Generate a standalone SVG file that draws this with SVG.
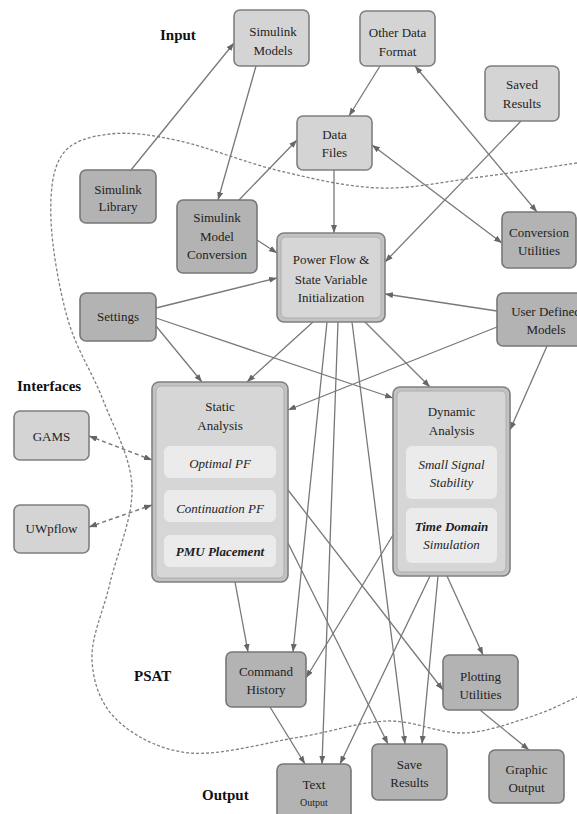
<svg xmlns="http://www.w3.org/2000/svg" width="577" height="814" viewBox="0 0 577 814">
<defs>
<marker id="ah" markerUnits="userSpaceOnUse" markerWidth="8" markerHeight="6" refX="8" refY="3" orient="auto-start-reverse">
<path d="M0,0 L8,3 L0,6 z" fill="#666666"/>
</marker>
<style>
.lt{fill:#d4d4d4;stroke:#7f7f7f;stroke-width:1.6}
.dk{fill:#b3b3b3;stroke:#777777;stroke-width:1.6}
.outer{fill:#c2c2c2;stroke:#808080;stroke-width:1.6}
.inner{fill:#d6d6d6;stroke:#aeaeae;stroke-width:1}
.sub{fill:#ebebeb;stroke:none}
text{font-family:"Liberation Serif","Times New Roman",serif;font-size:13px;fill:#1e1e1e;text-anchor:middle}
.it{font-style:italic}
.bi{font-style:italic;font-weight:bold}
.lbl{font-weight:bold;font-size:15px;fill:#111;text-anchor:start}
.c line{stroke:#787878;stroke-width:1.3;marker-end:url(#ah)}
.c .bd{marker-start:url(#ah)}
.c .ds{stroke-dasharray:4 3;stroke-width:1.5}
</style>
</defs>
<rect width="577" height="814" fill="#ffffff"/>
<g id="boundary">
<path d="M577,163 C544.7,167.7 512.8,172.8 480,177 C447.2,181.2 413.3,189 380,188 C346.7,187 313.3,178.8 280,171 C246.7,163.2 208.3,147.2 180,141 C151.7,134.8 129.7,131.7 110,134 C90.3,136.3 71.8,140.7 62,155 C52.2,169.3 50,192.5 51,220 C52,247.5 59.3,290 68,320 C76.7,350 92.3,372.2 103,400 C113.7,427.8 130.8,456.5 132,487 C133.2,517.5 116.7,554.2 110,583 C103.3,611.8 90.8,637.2 92,660 C93.2,682.8 100.7,704.5 117,720 C133.3,735.5 159.5,750.2 190,753 C220.5,755.8 267.2,742.3 300,737 C332.8,731.7 359.8,721.7 387,721 C414.2,720.3 439.2,733.7 463,733 C486.8,732.3 511,723 530,717 C549,711 565.3,702.3 577,697 L600,686" fill="none" stroke="#808080" stroke-width="1.3" stroke-dasharray="3 2"/>
</g>
<g id="labels">
<text class="lbl" x="160" y="40">Input</text>
<text class="lbl" x="17" y="391">Interfaces</text>
<text class="lbl" x="134" y="681">PSAT</text>
<text class="lbl" x="202" y="800">Output</text>
</g>
<g class="c" id="connectors">
<line x1="131" y1="170" x2="234" y2="43"/>
<line x1="256" y1="66" x2="218" y2="200"/>
<line x1="239" y1="200" x2="297" y2="140"/>
<line x1="257" y1="240" x2="277" y2="253"/>
<line x1="380" y1="66" x2="349" y2="116"/>
<line class="bd" x1="415" y1="66" x2="537" y2="212"/>
<line class="bd" x1="372" y1="145" x2="502" y2="243"/>
<line x1="334" y1="170" x2="334" y2="233"/>
<line x1="521" y1="121" x2="385" y2="262"/>
<line x1="156" y1="308" x2="277" y2="278"/>
<line x1="497" y1="311" x2="385" y2="294"/>
<line x1="156" y1="326" x2="202" y2="382"/>
<line x1="156" y1="318" x2="393" y2="398"/>
<line x1="313" y1="322" x2="247" y2="382"/>
<line x1="365" y1="322" x2="430" y2="387"/>
<line x1="497" y1="327" x2="288" y2="410"/>
<line x1="547" y1="346" x2="510" y2="430"/>
<line class="bd ds" x1="89" y1="436" x2="152" y2="460"/>
<line class="bd ds" x1="89" y1="527" x2="152" y2="505"/>
<line x1="327" y1="322" x2="293" y2="652"/>
<line x1="338" y1="322" x2="322" y2="764"/>
<line x1="352" y1="322" x2="405" y2="744"/>
<line x1="235" y1="582" x2="248" y2="652"/>
<line x1="288" y1="490" x2="443" y2="690"/>
<line x1="288" y1="543" x2="388" y2="744"/>
<line x1="393" y1="535" x2="306" y2="678"/>
<line x1="430" y1="576" x2="340" y2="764"/>
<line x1="438" y1="576" x2="422" y2="744"/>
<line x1="447" y1="576" x2="483" y2="655"/>
<line x1="270" y1="707" x2="305" y2="764"/>
<line x1="480" y1="710" x2="529" y2="750"/>
</g>
<g id="simulink-models"><rect class="lt" x="234" y="10" width="75" height="56" rx="6"/><text x="273" y="36">Simulink</text><text x="273" y="55">Models</text></g>
<g id="other-data-format"><rect class="lt" x="360" y="11" width="75" height="55" rx="6"/><text x="397.5" y="37">Other Data</text><text x="397.5" y="56">Format</text></g>
<g id="saved-results"><rect class="lt" x="485" y="66" width="74" height="55" rx="6"/><text x="522" y="89">Saved</text><text x="522" y="108">Results</text></g>
<g id="data-files"><rect class="lt" x="297" y="116" width="75" height="54" rx="6"/><text x="334.5" y="139">Data</text><text x="334.5" y="157">Files</text></g>
<g id="simulink-library"><rect class="dk" x="80" y="170" width="76" height="53" rx="6"/><text x="118" y="194">Simulink</text><text x="118" y="211">Library</text></g>
<g id="simulink-model-conversion"><rect class="dk" x="177" y="200" width="80" height="73" rx="6"/><text x="217" y="222">Simulink</text><text x="217" y="241">Model</text><text x="217" y="259">Conversion</text></g>
<g id="conversion-utilities"><rect class="dk" x="502" y="212" width="74" height="56" rx="6"/><text x="539" y="237">Conversion</text><text x="539" y="255">Utilities</text></g>
<g id="power-flow"><rect class="outer" x="277" y="233" width="108" height="89" rx="7"/><rect class="inner" x="281" y="237" width="100" height="81" rx="5"/><text x="331" y="264">Power Flow &amp;</text><text x="331" y="284">State Variable</text><text x="331" y="302">Initialization</text></g>
<g id="settings"><rect class="dk" x="80" y="293" width="76" height="48" rx="6"/><text x="118" y="321">Settings</text></g>
<g id="user-defined-models"><rect class="dk" x="497" y="293" width="98" height="53" rx="6"/><text x="546" y="316">User Defined</text><text x="546" y="334">Models</text></g>
<g id="gams"><rect class="lt" x="14" y="411" width="75" height="49" rx="6"/><text x="51.5" y="441">GAMS</text></g>
<g id="uwpflow"><rect class="lt" x="14" y="505" width="75" height="48" rx="6"/><text x="51.5" y="533">UWpflow</text></g>
<g id="static-analysis"><rect class="outer" x="152" y="382" width="136" height="200" rx="7"/><rect class="inner" x="156" y="386" width="128" height="192" rx="5"/><text x="220" y="411">Static</text><text x="220" y="430">Analysis</text>
<rect class="sub" x="164" y="446" width="112" height="32" rx="6"/><text class="it" x="220" y="468">Optimal PF</text>
<rect class="sub" x="164" y="490" width="112" height="32" rx="6"/><text class="it" x="220" y="513">Continuation PF</text>
<rect class="sub" x="164" y="535" width="112" height="32" rx="6"/><text class="bi" x="220" y="556">PMU Placement</text></g>
<g id="dynamic-analysis"><rect class="outer" x="393" y="387" width="117" height="189" rx="7"/><rect class="inner" x="397" y="391" width="109" height="181" rx="5"/><text x="451.5" y="416">Dynamic</text><text x="451.5" y="435">Analysis</text>
<rect class="sub" x="406" y="446" width="91" height="53" rx="6"/><text class="it" x="451.5" y="469">Small Signal</text><text class="it" x="451.5" y="487">Stability</text>
<rect class="sub" x="406" y="508" width="91" height="55" rx="6"/><text class="bi" x="451.5" y="531">Time Domain</text><text class="it" x="451.5" y="549">Simulation</text></g>
<g id="command-history"><rect class="dk" x="226" y="652" width="80" height="55" rx="6"/><text x="266" y="676">Command</text><text x="266" y="694">History</text></g>
<g id="plotting-utilities"><rect class="dk" x="443" y="655" width="75" height="55" rx="6"/><text x="480.5" y="681">Plotting</text><text x="480.5" y="699">Utilities</text></g>
<g id="save-results"><rect class="dk" x="372" y="744" width="75" height="56" rx="6"/><text x="409.5" y="769">Save</text><text x="409.5" y="787">Results</text></g>
<g id="graphic-output"><rect class="dk" x="489" y="750" width="75" height="53" rx="6"/><text x="526.5" y="774">Graphic</text><text x="526.5" y="792">Output</text></g>
<g id="text-output"><rect class="dk" x="277" y="764" width="74" height="60" rx="6"/><text x="314" y="789">Text</text><text x="314" y="806" style="font-size:10px">Output</text></g>
</svg>
